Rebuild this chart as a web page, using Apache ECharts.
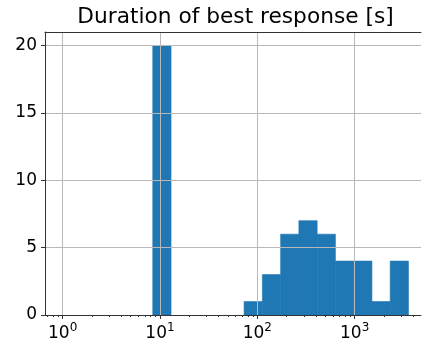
<!DOCTYPE html>
<html>
<head>
<meta charset="utf-8">
<script src="https://cdn.jsdelivr.net/npm/echarts@6/dist/echarts.min.js"></script>
<style>html,body{margin:0;padding:0;background:#fff}#c{width:422px;height:341px}</style>
</head>
<body>
<div id="c"></div>
<script>
// Histogram of durations (seconds), log-spaced bins
const titleText = 'Duration of best response [s]';
const binEdges = [8.43, 12.99, 20.0, 30.8, 47.5, 73.1, 112.6, 173.5, 267.2, 411.6, 633.9, 976.3, 1504, 2316, 3567];
const counts = [20, 0, 0, 0, 0, 1, 3, 6, 7, 6, 4, 4, 1, 4];
const xTickExponents = [0, 1, 2, 3];
const yTicks = [0, 5, 10, 15, 20];
const xLimSeconds = [0.659, 4800];
const yLim = [0, 21];

const FONT = '"DejaVu Sans", sans-serif';
const xMin = Math.log10(xLimSeconds[0]);
const xMax = Math.log10(xLimSeconds[1]);

const minorTicks = [];
for (let n = -1; n <= 3; n++) {
  for (let k = 2; k <= 9; k++) {
    const v = n + Math.log10(k);
    if (v > xMin && v < xMax) minorTicks.push(v);
  }
}

const barData = counts.map((c, i) => [Math.log10(binEdges[i]), Math.log10(binEdges[i + 1]), c]);

const chart = echarts.init(document.getElementById('c'), null, {renderer: 'canvas'});
const axisLineStyle = {color: '#333', width: 1};
chart.setOption({
  animation: false,
  backgroundColor: '#fff',
  grid: {left: 45, top: 32, right: 1, bottom: 26, containLabel: false, outerBoundsMode: 'none'},
  graphic: [{
    type: 'text', x: 235.5, y: 17,
    style: {text: titleText, font: '21.7px ' + FONT, fill: '#000', align: 'center', verticalAlign: 'middle'}
  }],
  xAxis: [{
    type: 'value', position: 'bottom', min: xMin, max: xMax, z: 5,
    axisLine: {show: true, lineStyle: axisLineStyle, onZero: false},
    axisTick: {show: true, length: 4, lineStyle: {color: '#333'}, customValues: xTickExponents},
    axisLabel: {
      show: true, margin: 7, customValues: xTickExponents,
      formatter: v => '{b|10}{s|' + Math.round(v) + '}',
      rich: {
        b: {fontFamily: FONT, fontSize: 17, color: '#000', lineHeight: 20, verticalAlign: 'bottom'},
        s: {fontFamily: FONT, fontSize: 12, color: '#000', lineHeight: 20, verticalAlign: 'top'}
      }
    },
    splitLine: {show: true, lineStyle: {color: '#b8b8b8', width: 1}}
  }, {
    type: 'value', position: 'bottom', min: xMin, max: xMax, z: 5,
    axisLine: {show: false, onZero: false},
    axisTick: {show: true, length: 2, lineStyle: {color: '#333'}, customValues: minorTicks},
    axisLabel: {show: false},
    splitLine: {show: false}
  }, {
    type: 'value', position: 'top', min: xMin, max: xMax, z: 5,
    axisLine: {show: true, lineStyle: axisLineStyle, onZero: false},
    axisTick: {show: false}, axisLabel: {show: false}, splitLine: {show: false}
  }],
  yAxis: [{
    type: 'value', min: yLim[0], max: yLim[1], z: 5,
    axisLine: {show: true, lineStyle: axisLineStyle, onZero: false},
    axisTick: {show: true, length: 4, lineStyle: {color: '#333'}, customValues: yTicks},
    axisLabel: {show: true, margin: 8, customValues: yTicks, fontFamily: FONT, fontSize: 17, color: '#000'},
    splitLine: {show: true, lineStyle: {color: '#b8b8b8', width: 1}}
  }],
  series: [{
    type: 'custom',
    xAxisIndex: 0, yAxisIndex: 0, z: 2,
    encode: {x: [0, 1], y: 2},
    data: barData,
    renderItem: (params, api) => {
      if (!(api.value(2) > 0)) return null;
      const p0 = api.coord([api.value(0), 0]);
      const p1 = api.coord([api.value(1), api.value(2)]);
      return {
        type: 'rect',
        shape: {x: p0[0], y: p1[1], width: p1[0] - p0[0], height: p0[1] - p1[1]},
        style: {fill: '#1f77b4', stroke: '#1f77b4', lineWidth: 0.6}
      };
    }
  }]
});
</script>
</body>
</html>
